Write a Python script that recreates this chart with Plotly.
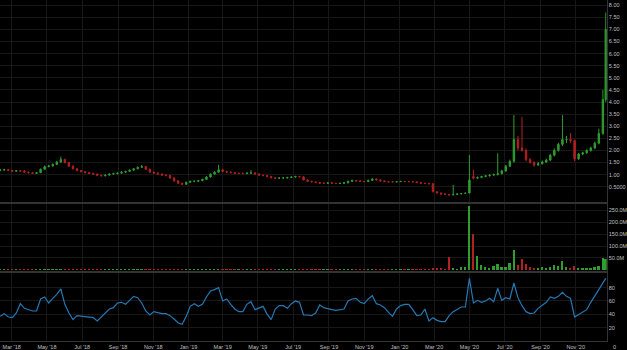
import pandas as pd
import plotly.graph_objects as go

# ---- data (weekly readings from the picture) ----
dates = list(pd.date_range("2018-02-09", periods=151, freq="7D").strftime("%Y-%m-%d"))
dates[-1] = "2020-12-23"

opens = [1.17,1.19,1.20,1.17,1.14,1.16,1.15,1.10,1.08,1.05,1.08,1.22,1.33,1.36,1.42,1.52,1.62,1.50,1.35,1.24,
         1.17,1.12,1.08,1.05,1.02,0.97,0.95,0.98,1.02,1.04,1.06,1.10,1.13,1.18,1.24,1.30,1.33,1.22,1.10,1.06,
         1.02,0.98,0.96,0.86,0.74,0.64,0.60,0.68,0.72,0.72,0.75,0.80,0.90,1.02,1.10,1.20,1.13,1.10,1.08,1.05,
         1.05,1.04,1.06,1.07,1.02,0.98,0.96,0.92,0.87,0.85,0.86,0.86,0.88,0.90,0.92,0.91,0.78,0.72,0.70,0.67,
         0.64,0.64,0.66,0.64,0.63,0.64,0.66,0.72,0.76,0.74,0.72,0.71,0.76,0.82,0.78,0.74,0.71,0.70,0.70,0.71,
         0.72,0.71,0.71,0.70,0.67,0.64,0.63,0.62,0.29,0.24,0.20,0.18,0.16,0.18,0.20,0.22,0.24,0.92,0.85,0.88,
         0.92,0.95,0.98,1.00,1.04,1.15,1.35,1.55,2.45,2.10,2.00,1.62,1.50,1.40,1.45,1.52,1.60,1.80,2.00,2.25,
         2.45,2.45,2.40,1.65,1.85,1.90,2.00,2.10,2.30,2.70,4.10]
highs = [1.23,1.24,1.23,1.20,1.19,1.19,1.18,1.13,1.11,1.11,1.25,1.37,1.40,1.46,1.56,1.74,1.66,1.53,1.38,1.27,
         1.20,1.15,1.11,1.08,1.05,1.00,1.01,1.05,1.07,1.09,1.14,1.16,1.21,1.27,1.34,1.40,1.36,1.25,1.13,1.09,
         1.05,1.01,0.99,0.89,0.77,0.67,0.71,0.75,0.76,0.78,0.83,0.93,1.05,1.14,1.40,1.24,1.16,1.13,1.11,1.08,
         1.08,1.09,1.19,1.10,1.05,1.01,0.98,0.94,0.89,0.89,0.89,0.91,0.93,0.95,0.95,0.94,0.80,0.75,0.72,0.69,
         0.67,0.68,0.69,0.66,0.66,0.68,0.75,0.79,0.78,0.76,0.74,0.79,0.85,0.84,0.80,0.76,0.73,0.72,0.73,0.74,
         0.74,0.73,0.73,0.72,0.69,0.66,0.66,0.64,0.31,0.26,0.22,0.20,0.57,0.22,0.24,0.26,1.81,1.20,0.92,0.95,
         0.98,1.02,1.04,1.88,1.20,1.40,1.62,3.46,2.60,3.39,2.08,1.68,1.55,1.52,1.58,1.66,1.86,2.08,2.32,3.46,
         2.60,2.72,2.45,1.90,1.95,2.05,2.16,2.36,2.90,4.50,7.70]
lows = [1.14,1.16,1.14,1.11,1.12,1.12,1.07,1.05,1.02,1.03,1.06,1.19,1.30,1.33,1.39,1.49,1.46,1.32,1.21,1.14,
        1.09,1.05,1.02,0.99,0.94,0.92,0.93,0.96,1.00,1.02,1.04,1.08,1.11,1.16,1.22,1.28,1.19,1.07,1.03,0.99,
        0.95,0.93,0.83,0.71,0.61,0.57,0.58,0.66,0.69,0.70,0.73,0.78,0.88,0.99,1.07,1.10,1.07,1.05,1.02,1.02,
        1.01,1.02,1.04,0.99,0.95,0.93,0.89,0.84,0.82,0.83,0.83,0.84,0.86,0.88,0.88,0.76,0.70,0.68,0.65,0.62,
        0.62,0.62,0.62,0.61,0.61,0.62,0.64,0.70,0.72,0.70,0.69,0.69,0.74,0.76,0.72,0.69,0.68,0.68,0.68,0.69,
        0.69,0.69,0.68,0.65,0.62,0.61,0.60,0.27,0.22,0.18,0.16,0.14,0.15,0.17,0.19,0.21,0.22,0.80,0.82,0.85,
        0.89,0.92,0.95,0.97,1.01,1.12,1.31,1.50,2.00,1.95,1.55,1.45,1.32,1.36,1.42,1.48,1.56,1.75,1.95,2.18,
        2.30,2.30,1.55,1.60,1.80,1.85,1.95,2.05,2.25,2.65,4.00]
closes = [1.19,1.20,1.17,1.14,1.16,1.15,1.10,1.08,1.05,1.08,1.22,1.33,1.36,1.42,1.52,1.62,1.50,1.35,1.24,1.17,
          1.12,1.08,1.05,1.02,0.97,0.95,0.98,1.02,1.04,1.06,1.10,1.13,1.18,1.24,1.30,1.33,1.22,1.10,1.06,1.02,
          0.98,0.96,0.86,0.74,0.64,0.60,0.68,0.72,0.72,0.75,0.80,0.90,1.02,1.10,1.20,1.13,1.10,1.08,1.05,1.05,
          1.04,1.06,1.07,1.02,0.98,0.96,0.92,0.87,0.85,0.86,0.86,0.88,0.90,0.92,0.91,0.78,0.72,0.70,0.67,0.64,
          0.64,0.66,0.64,0.63,0.64,0.66,0.72,0.76,0.74,0.72,0.71,0.76,0.82,0.78,0.74,0.71,0.70,0.70,0.71,0.72,
          0.71,0.71,0.70,0.67,0.64,0.63,0.62,0.29,0.24,0.20,0.18,0.16,0.18,0.20,0.22,0.23,0.78,0.85,0.88,0.92,
          0.95,0.98,1.00,1.04,1.15,1.35,1.55,2.45,2.10,2.00,1.62,1.50,1.40,1.45,1.52,1.60,1.80,2.00,2.25,2.45,
          2.45,2.40,1.65,1.85,1.90,2.00,2.10,2.30,2.70,4.10,7.00]
volume_m = [0.6,0.4,0.3,0.4,0.5,0.3,0.4,0.3,0.3,0.5,0.8,0.5,0.6,0.8,1.2,0.8,0.5,0.4,0.3,0.3,
            0.3,0.3,0.4,0.3,0.3,0.3,0.3,0.4,0.3,0.3,0.5,0.4,0.5,0.6,0.8,0.5,0.4,0.3,0.3,0.3,
            0.3,0.3,0.4,0.5,0.8,0.5,0.4,0.3,0.3,0.3,0.3,0.4,0.5,0.5,0.8,0.5,0.4,0.3,0.3,0.3,
            0.3,0.3,0.5,0.3,0.3,0.3,0.3,0.3,0.3,0.3,0.3,0.3,0.3,0.3,0.3,0.5,0.4,0.3,0.3,0.3,
            0.3,0.3,0.3,0.3,0.3,0.3,0.4,0.3,0.3,0.3,0.3,0.4,0.5,0.3,0.3,0.3,0.3,0.3,0.3,0.3,
            0.3,0.3,0.3,0.3,0.3,0.3,0.5,8,5,4,3,52,4,3,10,12,267,150,59,20,
            12,8,15,25,12,10,30,85,20,44,25,10,8,6,10,8,12,20,15,37,
            12,8,15,6,5,6,8,10,15,51,45]
rsi = [37,41,36,35,42,56,49,47,45,45,63,66,57,64,70,78,55,42,32,38,
       37,37,36,35,30,36,43,48,50,57,58,55,61,67,65,57,45,39,44,42,
       41,41,38,33,27,25,37,52,56,52,55,66,75,77,80,60,63,55,48,44,
       44,55,59,47,50,52,40,32,48,53,53,49,56,60,58,39,39,38,42,54,
       50,48,47,46,47,48,60,63,64,58,56,63,68,56,54,50,43,37,48,53,
       55,55,47,38,39,48,30,35,31,29,29,38,44,48,51,51,94,57,61,58,
       60,64,59,79,61,65,63,87,65,53,44,41,42,49,53,58,66,64,67,73,
       67,64,36,40,43,47,58,68,76,88,94]

price_ticks = [0.5,1,1.5,2,2.5,3,3.5,4,4.5,5,5.5,6,6.5,7,7.5,8]
price_labels = ["0.5000","1.00","1.50","2.00","2.50","3.00","3.50","4.00","4.50","5.00",
                "5.50","6.00","6.50","7.00","7.50","8.00"]
vol_ticks = [50e6,100e6,150e6,200e6,250e6]
vol_labels = ["50.0M","100.0M","150.0M","200.0M","250.0M"]
rsi_ticks = [20,40,60,80]

# ---- figure ----
UP = "#2f9e2f"
DOWN = "#b52020"
volume = [v * 1e6 for v in volume_m]
vol_colors = [UP if c >= o else DOWN for o, c in zip(opens, closes)]

fig = go.Figure()
fig.add_trace(go.Candlestick(
    x=dates, open=opens, high=highs, low=lows, close=closes,
    increasing=dict(line=dict(color=UP, width=1), fillcolor=UP),
    decreasing=dict(line=dict(color=DOWN, width=1), fillcolor=DOWN),
    whiskerwidth=0, xaxis="x", yaxis="y", showlegend=False))
fig.add_trace(go.Bar(x=dates, y=volume, marker=dict(color=vol_colors, line=dict(width=0)),
                     width=3 * 86400000, xaxis="x2", yaxis="y2", showlegend=False))
fig.add_trace(go.Scatter(x=dates, y=rsi, mode="lines", line=dict(color="#2479b5", width=1.2),
                         xaxis="x3", yaxis="y3", showlegend=False))

W, H = 627, 350
xr = ["2018-02-08 18:00", "2020-12-24 14:00"]
xdom = [0, 606.7 / W]
GRID = "#171717"
LINE = "#333333"
tickfont = dict(family="Liberation Sans, Arial, sans-serif", size=5.5, color="#c0c0c0")

xcommon = dict(type="date", range=xr, domain=xdom, showgrid=True, gridcolor=GRID, gridwidth=1,
               dtick="M2", tick0="2018-03-01", tickformat="%b '%y", zeroline=False,
               showline=True, linecolor=LINE, linewidth=1, ticks="", tickfont=tickfont)

fig.update_layout(
    width=W, height=H, paper_bgcolor="#000000", plot_bgcolor="#000000",
    margin=dict(l=0, r=0, t=0, b=9), bargap=0,
    xaxis=dict(xcommon, anchor="y", showticklabels=False, rangeslider=dict(visible=False)),
    xaxis2=dict(xcommon, anchor="y2", matches="x", showticklabels=False, mirror=True),
    xaxis3=dict(xcommon, anchor="y3", matches="x", showticklabels=True, mirror=True),
    yaxis=dict(domain=[0.4085, 1], range=[-0.12, 8.215], side="right", anchor="x",
               tickvals=price_ticks, ticktext=price_labels, showgrid=True, gridcolor=GRID,
               zeroline=False, showline=True, linecolor=LINE, ticks="", tickfont=tickfont),
    yaxis2=dict(domain=[0.2053, 0.4018], range=[-5e6, 277e6], side="right", anchor="x2",
                tickvals=vol_ticks, ticktext=vol_labels, showgrid=True, gridcolor=GRID,
                zeroline=False, showline=True, linecolor=LINE, ticks="", tickfont=tickfont),
    yaxis3=dict(domain=[0, 0.1985], range=[0, 101.5], side="right", anchor="x3",
                tickvals=rsi_ticks, showgrid=True, gridcolor=GRID,
                zeroline=False, showline=True, linecolor=LINE, ticks="", tickfont=tickfont),
    annotations=[dict(text="0", x=611 / W, y=-0.017, xref="paper", yref="paper",
                      xanchor="left", yanchor="middle", showarrow=False, font=tickfont)],
)

fig.write_html("out.html")
